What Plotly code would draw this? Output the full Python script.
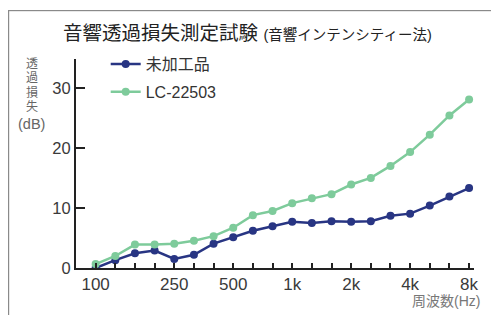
import plotly.graph_objects as go

freqs = ["100", "125", "160", "200", "250", "315", "400", "500", "630", "800",
         "1000", "1250", "1600", "2000", "2500", "3150", "4000", "5000", "6300", "8000"]
tick_labels = ["100", "", "", "", "250", "", "", "500", "", "",
               "1k", "", "", "2k", "", "", "4k", "", "", "8k"]
untreated = [0.0, 1.3, 2.45, 2.9, 1.5, 2.2, 4.05, 5.1, 6.2, 6.95,
             7.7, 7.5, 7.8, 7.7, 7.8, 8.7, 9.05, 10.4, 11.9, 13.3]
lc22503 = [0.65, 2.0, 3.9, 3.9, 4.05, 4.55, 5.3, 6.7, 8.8, 9.5,
           10.8, 11.6, 12.3, 13.9, 15.0, 17.0, 19.3, 22.2, 25.4, 28.05]
y_title_chars = ["透", "過", "損", "失", "(dB)"]
y_title_sizes = [12, 12, 12, 12, 14.5]

NAVY = "#283583"
GREEN = "#7ecb9b"
FONT = "Liberation Sans, Noto Sans CJK JP"

fig = go.Figure()
fig.add_trace(go.Scatter(x=freqs, y=untreated, name="未加工品", mode="lines+markers",
                         legendgroup="a",
                         line=dict(color=NAVY, width=2.5), marker=dict(size=8, color=NAVY)))
fig.add_trace(go.Scatter(x=freqs, y=lc22503, name="LC-22503", mode="lines+markers",
                         legendgroup="b",
                         line=dict(color=GREEN, width=2.5), marker=dict(size=8, color=GREEN)))

L, R, T, B = 76, 478, 59, 268
W, H = 491, 315

def px(x):
    return (x - L) / (R - L)

def py(y):
    return (B - y) / (B - T)

annotations = [
    # frame around the figure (left and top edges visible)
    dict(text=" ", xref="paper", yref="paper", x=px(7), y=py(10), xanchor="left", yanchor="top",
         width=560, height=380, showarrow=False, bordercolor="#8a8a8a", borderwidth=1.2,
         borderpad=0, font=dict(size=10)),
    dict(text="音響透過損失測定試験 <span style='font-size:14.5px'>(音響インテンシティー法)</span>",
         xref="paper", yref="paper", x=px(249), y=py(33), xanchor="center", yanchor="middle",
         showarrow=False, font=dict(size=19.5, color="#222222")),
    dict(text="周波数(Hz)", xref="paper", yref="paper", x=px(486), y=py(301),
         xanchor="right", yanchor="middle", showarrow=False,
         font=dict(size=14, color="#777777")),
]
for ch, yy, fs in zip(y_title_chars, [64, 78, 92, 106, 124], y_title_sizes):
    annotations.append(dict(text=ch, xref="paper", yref="paper", x=px(31.5), y=py(yy),
                            xanchor="center", yanchor="middle", showarrow=False,
                            font=dict(size=fs, color="#666666")))

fig.update_layout(
    width=W, height=H,
    margin=dict(l=L, r=W - R, t=T, b=H - B),
    paper_bgcolor="white", plot_bgcolor="white",
    font=dict(family=FONT, color="#333333", size=15),
    showlegend=True,
    legend=dict(x=px(106), y=py(47), xanchor="left", yanchor="top",
                bgcolor="rgba(0,0,0,0)", font=dict(size=16, color="#333333"),
                itemwidth=30, traceorder="grouped", tracegroupgap=4),
    xaxis=dict(type="category", tickvals=freqs, ticktext=tick_labels,
               range=[-1, 19.25], showgrid=False, zeroline=False,
               showline=True, linecolor="#222222", linewidth=2,
               ticks="inside", ticklen=5, tickwidth=1.5, tickcolor="#222222",
               tickfont=dict(size=17, color="#3a3a3a")),
    yaxis=dict(range=[0, 34.8], tickvals=[0, 10, 20, 30], showgrid=False, zeroline=False,
               showline=True, linecolor="#222222", linewidth=2,
               ticks="inside", ticklen=9, tickwidth=2, tickcolor="#222222",
               tickfont=dict(size=16.5, color="#3a3a3a")),
    annotations=annotations,
)

fig.write_html("out.html", post_script="document.body.style.margin='0';",
               config={"displayModeBar": False})
